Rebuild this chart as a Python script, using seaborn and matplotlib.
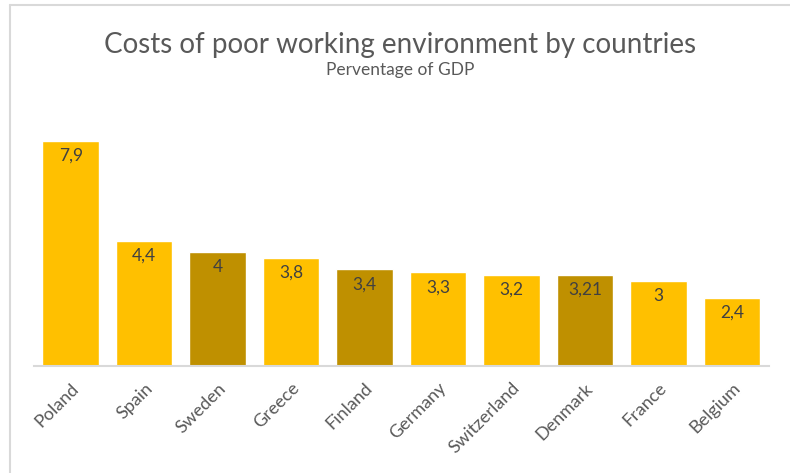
import numpy as np
import matplotlib.pyplot as plt
import pandas as pd
import seaborn as sns
from matplotlib.lines import Line2D

countries = ['Poland', 'Spain', 'Sweden', 'Greece', 'Finland',
             'Germany', 'Switzerland', 'Denmark', 'France', 'Belgium']
costs = [7.9, 4.4, 4, 3.8, 3.4, 3.3, 3.2, 3.21, 3, 2.4]
nordic = ['Sweden', 'Finland', 'Denmark']

gold = '#FFC000'
dark_gold = '#BF9000'

frame = pd.DataFrame({'country': countries, 'cost': costs})
pal = {c: (dark_gold if c in nordic else gold) for c in countries}

sns.set_style('white')
plt.rcParams['font.family'] = ['Lato', 'DejaVu Sans']

fig = plt.figure(figsize=(7.9, 4.73), dpi=100)
ax = fig.add_axes([0.043, 0.226, 0.930, 0.5425])

sns.barplot(data=frame, x='country', y='cost', hue='country', palette=pal,
            width=0.77, saturation=1, legend=False, ax=ax)

for p, v in zip(ax.patches, costs):
    ax.text(p.get_x() + p.get_width() / 2, v - 0.25,
            '{:g}'.format(v).replace('.', ','),
            ha='center', va='top', fontsize=12.5, color='#404040')

ax.set_ylim(0, 9)
ax.set_xlim(-0.5, 9.5)
ax.set_xlabel('')
ax.set_ylabel('')
ax.set_yticks([])
ax.tick_params(axis='x', length=0, pad=10, labelsize=13, labelcolor='#595959')
plt.setp(ax.get_xticklabels(), rotation=45, ha='right', rotation_mode='anchor')
for s in ['left', 'right', 'top']:
    ax.spines[s].set_visible(False)
ax.spines['bottom'].set_color('#D9D9D9')
ax.spines['bottom'].set_linewidth(1.5)

fig.text(0.506, 0.905, 'Costs of poor working environment by countries',
         ha='center', va='center', fontsize=20, color='#595959')
fig.text(0.507, 0.851, 'Perventage of GDP',
         ha='center', va='center', fontsize=12.5, color='#595959')

# chart frame, partly cut off like the screenshot
fig.add_artist(Line2D([0.013, 0.013], [0.0, 0.99], color='#D9D9D9', lw=1.5))
fig.add_artist(Line2D([0.013, 1.0], [0.99, 0.99], color='#D9D9D9', lw=1.5))

fig.savefig('out.png', dpi=100)
